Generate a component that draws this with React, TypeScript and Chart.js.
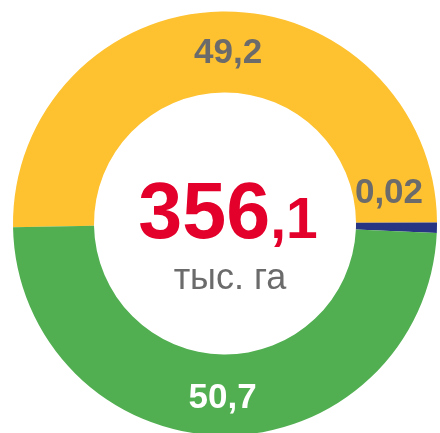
import { useEffect, useRef } from "react";
import { Chart, ArcElement, DoughnutController } from "chart.js";

Chart.register(ArcElement, DoughnutController);

// Slice categories and their shares (as drawn in the picture)
const categories = ["Категория 1", "Категория 2", "Категория 3"];
const sliceShares = [50.2, 0.8, 49.0];
// Value labels shown on the slices
const valueLabels = ["49,2", "0,02", "50,7"];
// Center total
const totalInteger = "356";
const totalDecimal = ",1";
const totalUnit = "тыс. га";

const sliceColors = ["#FEC12F", "#283583", "#51AF51"];
const labelColors = ["#6B6B6B", "#6B6B6B", "#FFFFFF"];
const labelOffsets = [
  [5, 10.5],
  [-7.5, -23.5],
  [0, 13],
];

const FONT = '"Liberation Sans", Arial, sans-serif';

const labelPlugin = {
  id: "labelPlugin",
  afterDatasetsDraw(chart: any) {
    const ctx = chart.ctx;
    const meta = chart.getDatasetMeta(0);
    ctx.save();
    ctx.textBaseline = "alphabetic";
    ctx.textAlign = "center";
    ctx.font = `bold 35px ${FONT}`;
    meta.data.forEach((arc: any, i: number) => {
      const p = arc.tooltipPosition();
      ctx.fillStyle = labelColors[i];
      ctx.fillText(valueLabels[i], p.x + labelOffsets[i][0], p.y + labelOffsets[i][1]);
    });

    const area = chart.chartArea;
    const cx = (area.left + area.right) / 2;
    const cy = (area.top + area.bottom) / 2;

    ctx.textAlign = "left";
    ctx.fillStyle = "#E3002B";
    const bigFont = `bold 79px ${FONT}`;
    const smallFont = `bold 57px ${FONT}`;
    ctx.font = bigFont;
    const w1 = ctx.measureText(totalInteger).width;
    ctx.font = smallFont;
    const w2 = ctx.measureText(totalDecimal).width;
    const startX = cx + 3 - (w1 + w2) / 2;
    ctx.font = bigFont;
    ctx.fillText(totalInteger, startX, cy + 14.5);
    ctx.font = smallFont;
    ctx.fillText(totalDecimal, startX + w1, cy + 14.5);

    ctx.textAlign = "center";
    ctx.fillStyle = "#6B6B6B";
    ctx.font = `36px ${FONT}`;
    ctx.fillText(totalUnit, cx + 5, cy + 65.5);
    ctx.restore();
  },
};

export default function App() {
  const ref = useRef<HTMLCanvasElement>(null);
  useEffect(() => {
    if (!ref.current) return;
    const chart = new Chart(ref.current, {
      type: "doughnut",
      data: {
        labels: categories,
        datasets: [
          {
            data: sliceShares,
            backgroundColor: sliceColors,
            borderWidth: 0,
          },
        ],
      },
      options: {
        animation: false,
        responsive: false,
        rotation: 269,
        radius: 212,
        cutout: "61.8%",
        layout: { padding: 0 },
        plugins: {
          legend: { display: false },
          tooltip: { enabled: false },
        },
      },
      plugins: [labelPlugin],
    });
    return () => chart.destroy();
  }, []);
  return (
    <div style={{ position: "fixed", left: 0, top: 0, width: 450, height: 447, background: "#fff" }}>
      <canvas ref={ref} width={450} height={447} style={{ width: 450, height: 447 }} />
    </div>
  );
}
